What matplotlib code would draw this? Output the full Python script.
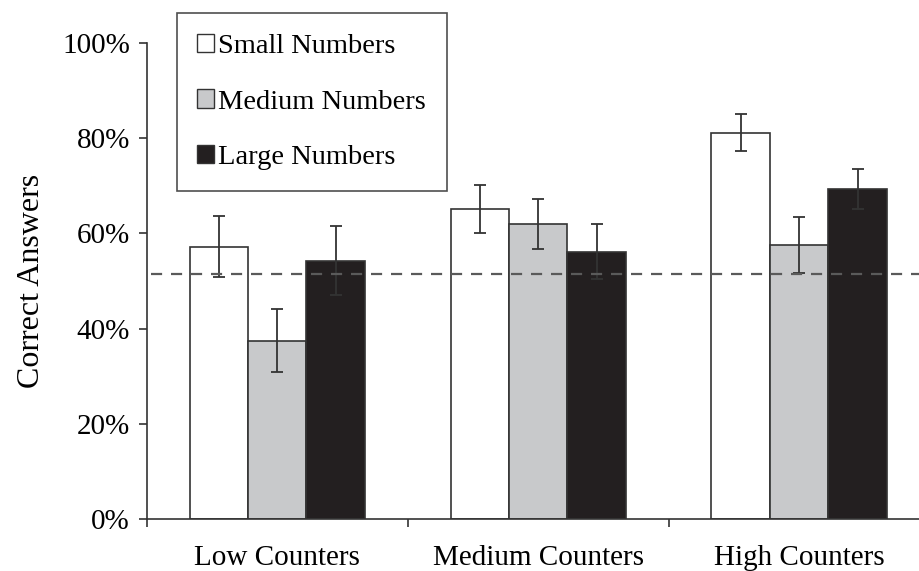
import numpy as np
import matplotlib.pyplot as plt
from matplotlib.patches import Patch

plt.rcParams['font.family'] = ['Liberation Serif', 'DejaVu Serif']

# groups of counters and number sizes
groups = ['Low Counters', 'Medium Counters', 'High Counters']
series = ['Small Numbers', 'Medium Numbers', 'Large Numbers']
small = [57.2, 65.1, 81.2]
medium = [37.5, 62.0, 57.6]
large = [54.3, 56.2, 69.3]
small_err = [6.4, 5.0, 3.8]
medium_err = [6.6, 5.3, 5.9]
large_err = [7.2, 5.8, 4.2]
chance = 51.4

fills = ['#ffffff', '#c8c9cb', '#231f20']
edge = '#333333'

fig = plt.figure(figsize=(9.2, 5.71), dpi=100)
ax = fig.add_axes([0.1595, 0.091, 0.851, 0.8336])

x = np.arange(len(groups)) + 0.5
w = 0.224
for k, (vals, errs) in enumerate(zip([small, medium, large], [small_err, medium_err, large_err])):
    ax.bar(x + (k - 1) * w, vals, w, color=fills[k], edgecolor=edge, linewidth=1.2,
           yerr=errs, error_kw=dict(ecolor=edge, elinewidth=1.3, capsize=4.5, capthick=1.3),
           zorder=2)

ax.axhline(chance, xmin=0.005, color='#5a5a5a', linestyle=(0, (5, 4)), linewidth=1.6, zorder=3)

ax.set_xlim(0, 3)
ax.set_ylim(0, 100)
ax.spines['top'].set_visible(False)
ax.spines['right'].set_visible(False)
ax.spines['left'].set_color(edge)
ax.spines['bottom'].set_color(edge)
ax.spines['left'].set_linewidth(1.2)
ax.spines['bottom'].set_linewidth(1.2)

ax.set_yticks([0, 20, 40, 60, 80, 100])
ax.set_yticklabels(['%d%%' % v for v in [0, 20, 40, 60, 80, 100]])
ax.tick_params(axis='y', direction='out', length=6, width=1.2, color=edge, pad=6, labelsize=21)

ax.set_xticks([0, 1, 2, 3])
ax.set_xticklabels([])
ax.tick_params(axis='x', which='major', direction='out', length=6, width=1.2, color=edge)
ax.set_xticks(x, minor=True)
ax.set_xticklabels(groups, minor=True)
ax.tick_params(axis='x', which='minor', length=0, pad=19, labelsize=21)

ax.set_ylabel('Correct Answers', fontsize=23, labelpad=12)

handles = [Patch(facecolor=fills[k], edgecolor=edge, linewidth=1.0) for k in range(3)]
leg = fig.legend(handles, series, loc='upper left', bbox_to_anchor=(0.192, 0.977),
                 fontsize=20.5, frameon=True, fancybox=False, edgecolor='#222222',
                 handlelength=0.6, handleheight=0.6, handletextpad=0.15,
                 labelspacing=1.08, borderpad=0.72, borderaxespad=0)
leg.get_frame().set_linewidth(1.2)

fig.savefig('out.png', dpi=100)
